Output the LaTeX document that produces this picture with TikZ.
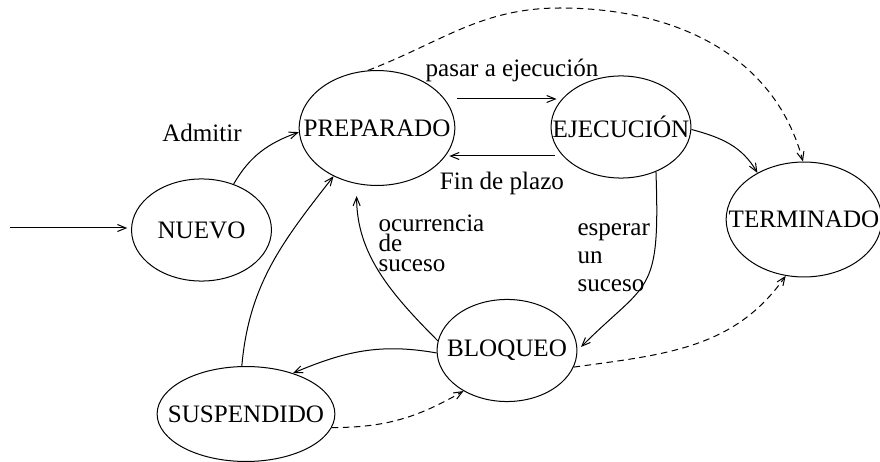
\documentclass[tikz,border=0pt]{standalone}
\usepackage{fontspec}
\setmainfont{Liberation Serif}
\usetikzlibrary{shapes.geometric, arrows.meta, positioning}

\begin{document}
\begin{tikzpicture}[
        x=0.014cm, y=0.014cm,
        >={Straight Barb[length=3.4pt,width=2.8pt]},
        estado/.style={ellipse, draw, inner sep=0pt, minimum width=1.96cm, minimum height=1.43cm},
        grande/.style={estado, minimum width=2.18cm, minimum height=1.61cm},
        trans/.style={->},
        opc/.style={->, dash pattern=on 2.6pt off 1.8pt},
        etiq/.style={inner sep=0pt, align=left}
    ]
    \useasboundingbox (0,0) rectangle (880,462);

    % estados
    \node[estado] (nuevo) at (201.5,232) {\makebox[0pt]{NUEVO}};
    \node[grande] (prep) at (377,334) {\makebox[0pt]{PREPARADO}};
    \node[estado] (ejec) at (621,335) {\makebox[0pt]{EJECUCIÓN}};
    \node[grande] (term) at (804,242.5) {\makebox[0pt]{TERMINADO}};
    \node[estado] (bloq) at (507,111.5) {\makebox[0pt]{BLOQUEO}};
    \node[estado, minimum width=2.49cm, minimum height=1.33cm] (susp) at (246,48) {\makebox[0pt]{SUSPENDIDO}};
    \coordinate (entrada) at (10,234);
    \coordinate (cima) at (560,454);

    % etiquetas sueltas
    \node[etiq] (admitir) at (202,329.5) {Admitir};
    \node[etiq, anchor=north west, font=\fontsize{10}{7.9}\selectfont] (ocurr) at (378,247.2) {ocurrencia\\de\\suceso};
    \node[etiq, anchor=north west, font=\fontsize{10}{11.1}\selectfont] (esperar) at (577,238.6) {esperar\\un\\suceso};

    % transiciones
    \draw[trans, shorten >=1.5pt] (entrada) -- (entrada -| nuevo.west);
    \draw[trans] (nuevo.55) to[out=60, in=200] (prep.183);
    \draw[trans] (susp.95) to[out=85, in=232] (prep.228);
    \draw[trans] ([shift={(2,29)}]prep.east) -- node[above=3.2pt, xshift=2pt] (pasar) {pasar a ejecución} ([shift={(6,28)}]ejec.west);
    \draw[trans] ([shift={(4,-29)}]ejec.west) -- node[below=2.9pt] (fin) {Fin de plazo} ([shift={(-6,-28)}]prep.east);
    \draw[trans] (ejec.358) to[out=-15, in=120] (term.135);
    \draw[trans, shorten >=2pt] (ejec.-52) to[out=-88, in=45, out distance=50pt, in distance=40pt] (bloq.east);
    \draw[trans, shorten >=4.8pt] (bloq.172) to[out=135, in=-90] (prep.250);
    \draw[trans] (bloq.182) to[out=170, in=23] (susp.41);
    \draw[opc] (prep.99) to[out=21, in=180] (cima) to[out=0, in=105] (term.91);
    \draw[opc] (bloq.346) to[out=8, in=235] (term.252);
    \draw[opc] (susp.351) to[out=0, in=210] (bloq.223);
\end{tikzpicture}
\end{document}
